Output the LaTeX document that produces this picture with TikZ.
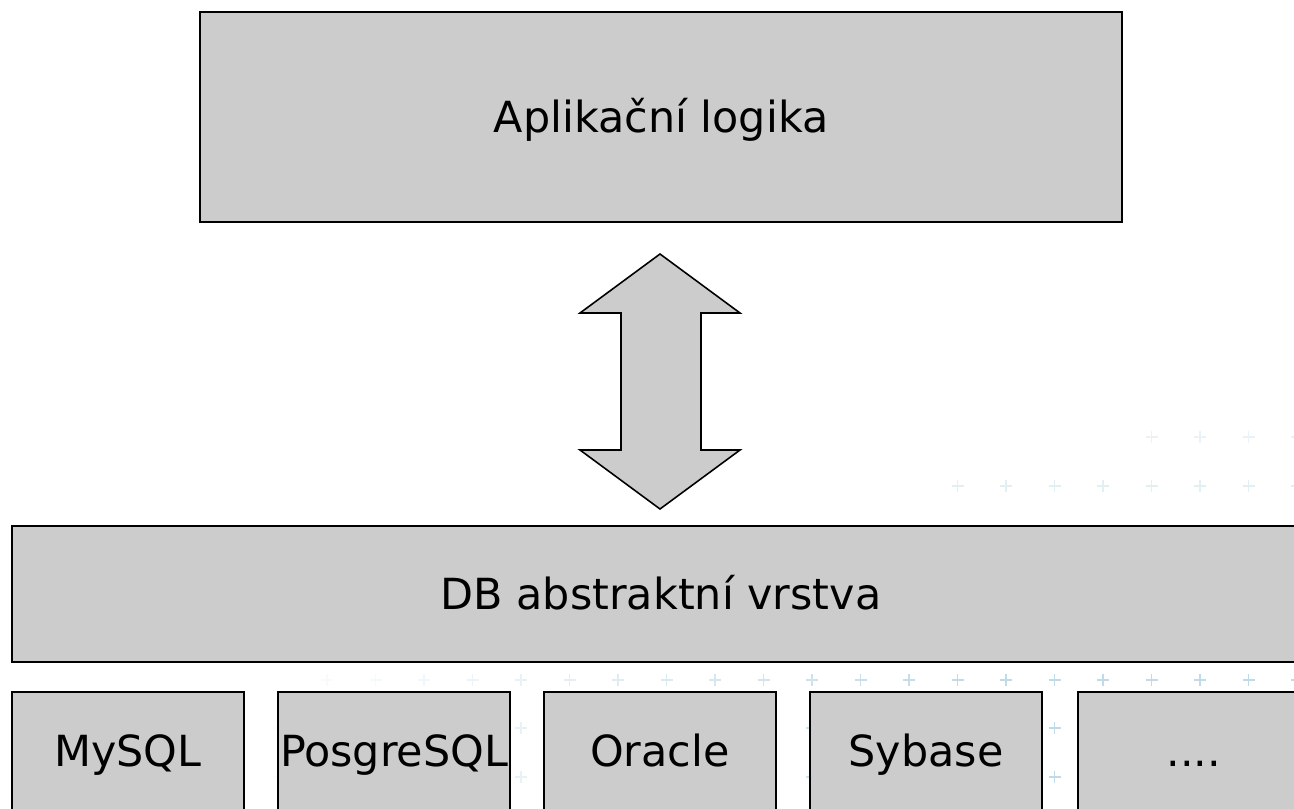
\documentclass[tikz,border=0pt]{standalone}
\usepackage{fontspec}
\setmainfont{DejaVu Sans}
\usetikzlibrary{positioning}
\definecolor{boxgray}{RGB}{204,204,204}
\definecolor{crossblue}{RGB}{150,195,215}
\tikzset{
  layer/.style={draw, fill=boxgray, line width=1.1pt, inner sep=0pt,
    text height=17.8pt, text depth=0pt, font=\fontsize{24.4}{29}\selectfont},
  dbbox/.style={layer, minimum width=4.64cm, minimum height=2.36cm},
  cross/.style={crossblue, line width=0.6pt}
}
\begin{document}
\begin{tikzpicture}[x=0.02cm, y=-0.02cm]
  \useasboundingbox (0,0) rectangle (1294,808);
  \clip (0,0) rectangle (1294,808);
  % faint crosses of the slide background
  \foreach \y/\kfrom/\f in {437/-1/0.35, 486/-5/0.45, 680/-18/1, 728/-19/1, 777/-19/1}
    \foreach \k in {\kfrom,...,2} {
      \pgfmathsetmacro\x{1200+48.5*\k}
      \pgfmathsetmacro\op{\f*max(0.05,min(0.6,(\x-250)/1200))}
      \draw[cross, opacity=\op] (\x-6,\y) -- (\x+6,\y) (\x,\y-6) -- (\x,\y+6);
    }
  % layers
  \node[layer, minimum width=18.44cm, minimum height=4.2cm] (app) at (661,117) {Aplikační logika};
  \node[layer, minimum width=25.96cm, minimum height=2.72cm] (abs) at (661,594) {DB abstraktní vrstva};
  \foreach \name/\txt [count=\i from 0] in {mysql/MySQL, pgsql/PosgreSQL, oracle/Oracle, sybase/Sybase}
    \node[dbbox] (\name) at (128+266*\i,751) {\txt};
  \node[dbbox, right=0.68cm of sybase] (other) {....};
  % double arrow between the layers
  \coordinate (up) at (660,254);
  \coordinate (dn) at (660,509);
  \draw[fill=boxgray, line width=0.9pt, line join=miter]
    (up) -- ++(80,59) -- ++(-39,0) -- ++(0,137) -- ++(39,0) -- (dn)
    -- ++(-80,-59) -- ++(41,0) -- ++(0,-137) -- ++(-41,0) -- cycle;
\end{tikzpicture}
\end{document}
